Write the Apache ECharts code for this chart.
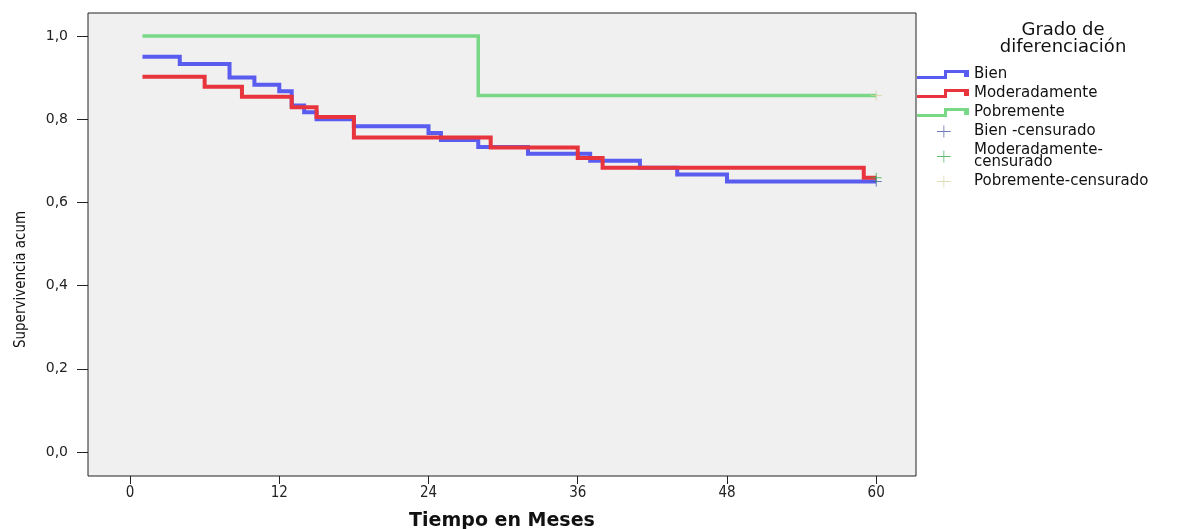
<!DOCTYPE html>
<html>
<head>
<meta charset="utf-8">
<script src="https://cdn.jsdelivr.net/npm/echarts@6/dist/echarts.min.js"></script>
<style>
  html, body { margin: 0; padding: 0; background: #ffffff; }
  #chart { width: 1200px; height: 529px; }
</style>
</head>
<body>
<div id="chart"></div>
<script>
// Kaplan-Meier curves by grado de diferenciación (time in months)
const bienTimes = [1, 4, 8, 10, 12, 13, 14, 15, 18, 24, 25, 28, 32, 37, 41, 44, 48, 60];
const bienSurv  = [0.950, 0.933, 0.900, 0.883, 0.867, 0.833, 0.817, 0.800, 0.783, 0.767, 0.750, 0.733, 0.717, 0.700, 0.683, 0.667, 0.650, 0.650];

const modTimes = [1, 6, 9, 13, 15, 18, 29, 36, 38, 59, 60];
const modSurv  = [0.902, 0.878, 0.854, 0.829, 0.805, 0.756, 0.732, 0.707, 0.683, 0.659, 0.659];

const pobTimes = [1, 28, 60];
const pobSurv  = [1.000, 0.857, 0.857];

// censored observations [time, survival]
const bienCens = [[60, 0.650]];
const modCens  = [[60, 0.659]];
const pobCens  = [[60, 0.857]];

const xTicks = [0, 12, 24, 36, 48, 60];
const yTicks = [0, 0.2, 0.4, 0.6, 0.8, 1.0];

const seriesNames = ['Bien', 'Moderadamente', 'Pobremente'];
const censNames = ['Bien -censurado', 'Moderadamente-\ncensurado', 'Pobremente-censurado'];

const colBien = '#5a5cf0';
const colMod = '#e8343c';
const colPob = '#78d886';
const colBienC = '#4a5aa8';
const colModC = '#3cae50';
const colPobC = '#d6d2a0';

const narrowFont = '"DejaVu Sans Condensed", "Liberation Sans Narrow", "Arial Narrow", sans-serif';

const pair = (xs, ys) => xs.map((x, i) => [x, ys[i]]);

// legend icons: a step glyph for curves, a plus for censored marks
const stepIcon = 'path://M0,8H27V2H47V9H52V2H47V5H30V11H0Z';
const plusIcon = 'path://M0,0M52,14M19,6.5H35V7.5H19ZM26.5,0H27.5V14H26.5Z';
const plusMark = 'path://M0,4.5H11V5.5H0ZM5,0H6V10H5Z';

const chart = echarts.init(document.getElementById('chart'), null, { renderer: 'canvas' });

const stepSeries = (name, data, color, width) => ({
  name, type: 'line', step: 'end', data,
  showSymbol: false, symbol: 'none',
  lineStyle: { color, width, cap: 'butt', join: 'miter' },
  itemStyle: { color },
  emphasis: { disabled: true },
  z: 3
});
const censSeries = (name, data, color) => ({
  name, type: 'scatter', data,
  symbol: plusMark, symbolSize: [11, 10],
  itemStyle: { color },
  emphasis: { disabled: true },
  z: 5
});

chart.setOption({
  animation: false,
  backgroundColor: '#ffffff',
  grid: {
    left: 88, top: 13, width: 828, height: 463,
    outerBoundsMode: 'none', containLabel: false,
    show: true, backgroundColor: '#f0f0f0',
    borderColor: '#222222', borderWidth: 1
  },
  xAxis: {
    type: 'value', min: -3.38, max: 63.2,
    name: 'Tiempo en Meses', nameLocation: 'middle', nameGap: 36,
    nameTextStyle: { fontFamily: 'DejaVu Sans', fontWeight: 'bold', fontSize: 19, color: '#111' },
    axisLine: { show: false, onZero: false },
    splitLine: { show: false },
    axisTick: { show: true, inside: false, length: 8, customValues: xTicks, lineStyle: { color: '#222', width: 1 } },
    axisLabel: {
      customValues: xTicks, margin: 10,
      fontFamily: narrowFont, fontSize: 15, color: '#222'
    }
  },
  yAxis: {
    type: 'value', min: -0.0577, max: 1.0553,
    name: 'Supervivencia acum', nameLocation: 'middle', nameGap: 59, nameRotate: 90,
    nameTextStyle: { fontFamily: narrowFont, fontSize: 15, color: '#111', padding: [0, 70, 0, 0] },
    axisLine: { show: false, onZero: false },
    splitLine: { show: false },
    axisTick: { show: true, inside: false, length: 11, customValues: yTicks, lineStyle: { color: '#222', width: 1 } },
    axisLabel: {
      customValues: yTicks, margin: 20,
      fontFamily: 'DejaVu Sans', fontSize: 14, color: '#222',
      formatter: v => v.toFixed(1).replace('.', ',')
    }
  },
  legend: {
    orient: 'vertical', left: 917, top: 67, padding: 0,
    itemWidth: 52, itemHeight: 12, itemGap: 4, selectedMode: false,
    itemStyle: { borderWidth: 0 },
    textStyle: { fontFamily: 'DejaVu Sans', fontSize: 15, color: '#111', lineHeight: 12 },
    data: [
      { name: seriesNames[0], icon: stepIcon, itemStyle: { color: colBien } },
      { name: seriesNames[1], icon: stepIcon, itemStyle: { color: colMod } },
      { name: seriesNames[2], icon: stepIcon, itemStyle: { color: colPob } },
      { name: censNames[0], icon: plusIcon, itemStyle: { color: colBienC } },
      { name: censNames[1], icon: plusIcon, itemStyle: { color: colModC } },
      { name: censNames[2], icon: plusIcon, itemStyle: { color: colPobC } }
    ]
  },
  graphic: [{
    type: 'text', left: 1063 - 80, top: 21,
    style: {
      text: 'Grado de\ndiferenciación', align: 'center', width: 160,
      x: 80, textAlign: 'center',
      font: '18px "DejaVu Sans"', fill: '#111', lineHeight: 17
    }
  }],
  series: [
    stepSeries(seriesNames[0], pair(bienTimes, bienSurv), colBien, 4),
    stepSeries(seriesNames[1], pair(modTimes, modSurv), colMod, 4),
    stepSeries(seriesNames[2], pair(pobTimes, pobSurv), colPob, 3.5),
    censSeries(censNames[0], bienCens, colBienC),
    censSeries(censNames[1], modCens, colModC),
    censSeries(censNames[2], pobCens, colPobC)
  ]
});
</script>
</body>
</html>
